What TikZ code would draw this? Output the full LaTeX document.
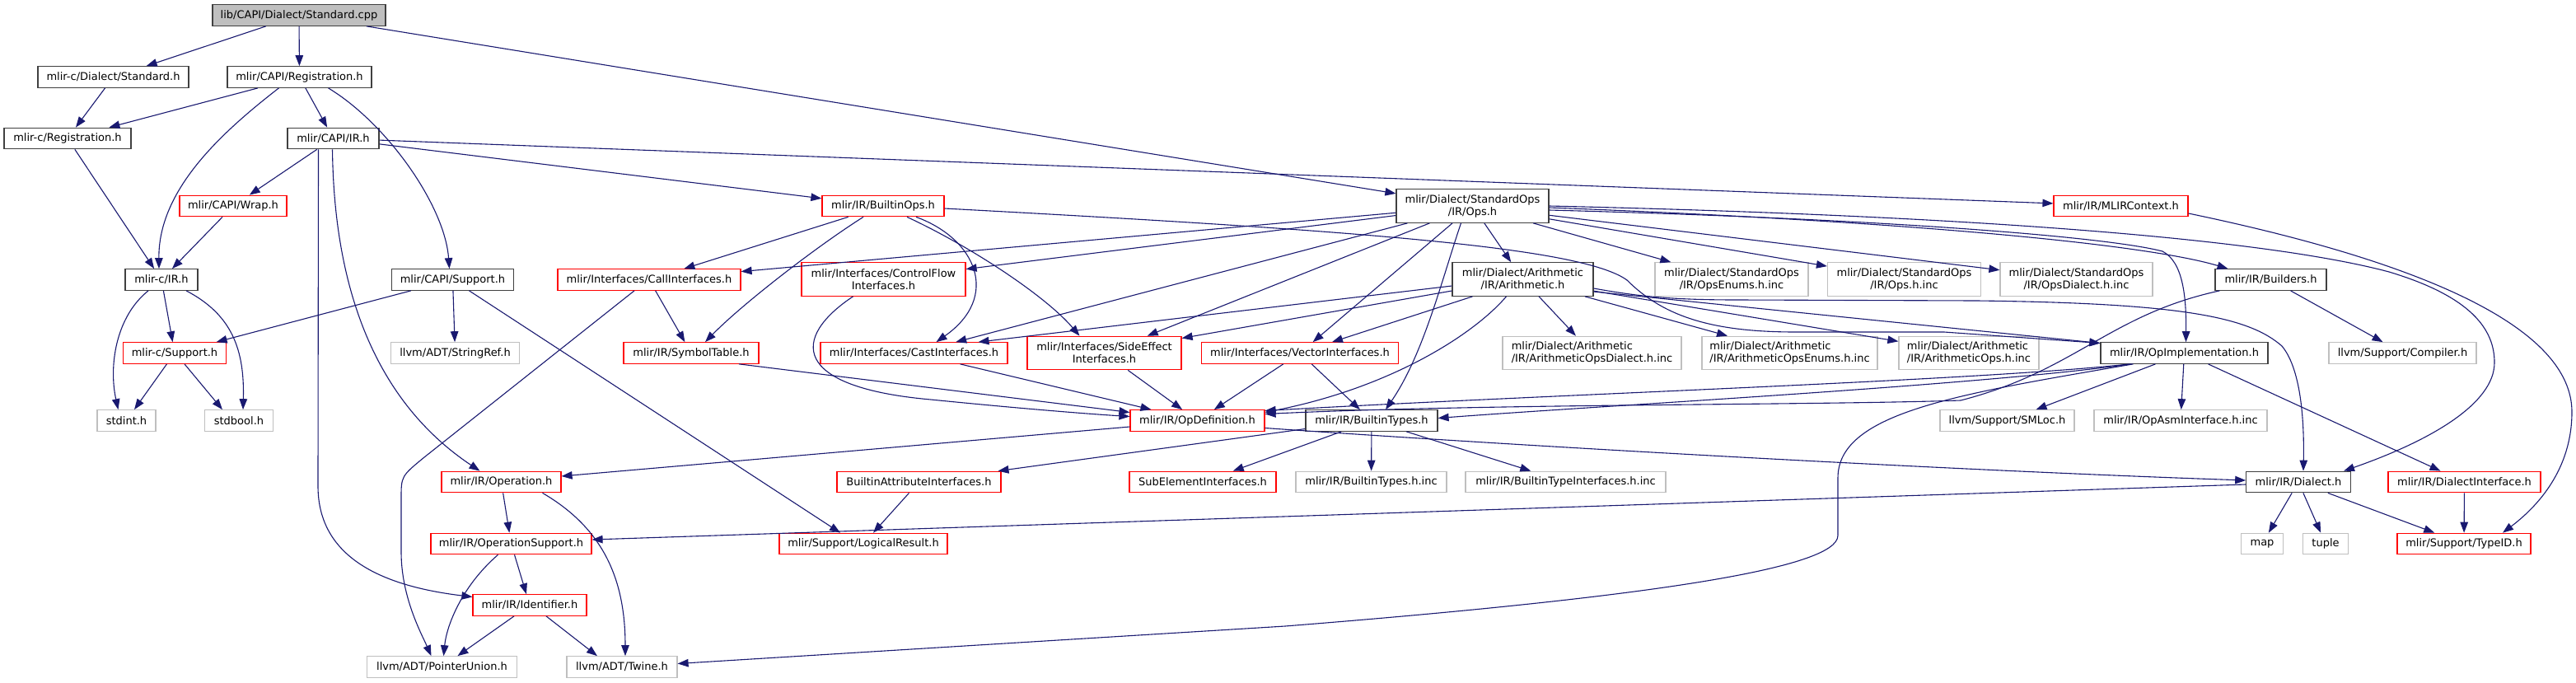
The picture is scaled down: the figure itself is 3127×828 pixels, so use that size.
\documentclass[tikz,border=0pt]{standalone}
\usepackage{fontspec}
\newfontfamily\dfont{DejaVu Sans}
\usetikzlibrary{arrows.meta}
\definecolor{navyc}{HTML}{191970}
\definecolor{grayc}{HTML}{BFBFBF}
\definecolor{rootc}{HTML}{BFBFBF}
\definecolor{blkc}{HTML}{404040}
\definecolor{redc}{HTML}{FF0000}
\tikzset{
 nd/.style={rectangle, inner sep=0pt, minimum height=25.5pt, align=center, font={\dfont\fontsize{13pt}{15pt}\selectfont}, line width=1.2pt, fill=white, text=black},
 blk/.style={nd, draw=blkc},
 rd/.style={nd, draw=redc},
 gr/.style={nd, draw=grayc},
 tw/.style={minimum height=40.5pt},
 edg/.style={draw=navyc, line width=1.1pt, -{Triangle[length=13pt,width=9.5pt]}},
}
\begin{document}
\begin{tikzpicture}[x=1pt,y=-1pt]
\useasboundingbox (0,0) rectangle (3127,828);
% nodes
\node[blk, fill=rootc, minimum width=210pt] (root) at (363,18.5) {lib/CAPI/Dialect/Standard.cpp};
\node[blk, minimum width=183pt] (dstd) at (137.5,93.5) {mlir-c/Dialect/Standard.h};
\node[blk, minimum width=175pt] (capireg) at (363.5,93.5) {mlir/CAPI/Registration.h};
\node[blk, minimum width=154pt] (creg) at (82,168) {mlir-c/Registration.h};
\node[blk, minimum width=111pt] (capiir) at (404.5,168) {mlir/CAPI/IR.h};
\node[rd, minimum width=130pt] (wrap) at (283,250) {mlir/CAPI/Wrap.h};
\node[rd, minimum width=148pt] (builtinops) at (1072,250) {mlir/IR/BuiltinOps.h};
\node[blk, tw, minimum width=185pt] (stdops) at (1787.5,250) {mlir/Dialect/StandardOps\\/IR/Ops.h};
\node[rd, minimum width=163pt] (mlirctx) at (2574.5,250) {mlir/IR/MLIRContext.h};
\node[blk, minimum width=88pt] (cir) at (196,339.5) {mlir-c/IR.h};
\node[blk, minimum width=148pt] (capisup) at (549.5,339.5) {mlir/CAPI/Support.h};
\node[rd, minimum width=222pt] (callif) at (788,339.5) {mlir/Interfaces/CallInterfaces.h};
\node[rd, tw, minimum width=199pt] (ctrlflow) at (1072.5,339) {mlir/Interfaces/ControlFlow\\Interfaces.h};
\node[blk, tw, minimum width=171pt] (arith) at (1848.5,339) {mlir/Dialect/Arithmetic\\/IR/Arithmetic.h};
\node[gr, tw, minimum width=186pt] (opsenums) at (2102,339) {mlir/Dialect/StandardOps\\/IR/OpsEnums.h.inc};
\node[gr, tw, minimum width=186pt] (opsinc) at (2311.5,339) {mlir/Dialect/StandardOps\\/IR/Ops.h.inc};
\node[gr, tw, minimum width=185pt] (opsdialect) at (2520.5,339) {mlir/Dialect/StandardOps\\/IR/OpsDialect.h.inc};
\node[blk, minimum width=135pt] (builders) at (2756.5,339.5) {mlir/IR/Builders.h};
\node[rd, minimum width=125.5pt] (csup) at (212,428.5) {mlir-c/Support.h};
\node[gr, minimum width=156pt] (stringref) at (552.5,428.5) {llvm/ADT/StringRef.h};
\node[rd, minimum width=164pt] (symtab) at (839,428.5) {mlir/IR/SymbolTable.h};
\node[rd, minimum width=227pt] (castif) at (1109.5,428.5) {mlir/Interfaces/CastInterfaces.h};
\node[rd, tw, minimum width=187pt] (sideeff) at (1340.5,428.5) {mlir/Interfaces/SideEffect\\Interfaces.h};
\node[rd, minimum width=239pt] (vecif) at (1578,428.5) {mlir/Interfaces/VectorInterfaces.h};
\node[gr, tw, align=left, minimum width=217pt] (aropsdia) at (1932.5,428.5) {mlir/Dialect/Arithmetic\\/IR/ArithmeticOpsDialect.h.inc};
\node[gr, tw, align=left, minimum width=213pt] (aropsenum) at (2172.5,428.5) {mlir/Dialect/Arithmetic\\/IR/ArithmeticOpsEnums.h.inc};
\node[gr, tw, align=left, minimum width=170pt] (aropsinc) at (2390,428.5) {mlir/Dialect/Arithmetic\\/IR/ArithmeticOps.h.inc};
\node[blk, minimum width=203pt] (opimpl) at (2651.5,428.5) {mlir/IR/OpImplementation.h};
\node[gr, minimum width=179pt] (compiler) at (2916.5,428.5) {llvm/Support/Compiler.h};
\node[gr, minimum width=71pt] (stdint) at (153.5,510.5) {stdint.h};
\node[gr, minimum width=83pt] (stdbool) at (290,510.5) {stdbool.h};
\node[rd, minimum width=163pt] (opdef) at (1453.5,510.5) {mlir/IR/OpDefinition.h};
\node[blk, minimum width=160pt] (btypes) at (1665,510.5) {mlir/IR/BuiltinTypes.h};
\node[gr, minimum width=163pt] (smloc) at (2436.5,510.5) {llvm/Support/SMLoc.h};
\node[gr, minimum width=210pt] (opasm) at (2647,510.5) {mlir/IR/OpAsmInterface.h.inc};
\node[rd, minimum width=145pt] (operation) at (608.5,585) {mlir/IR/Operation.h};
\node[rd, minimum width=199pt] (battrif) at (1115.5,585) {BuiltinAttributeInterfaces.h};
\node[rd, minimum width=178pt] (subelem) at (1460,585) {SubElementInterfaces.h};
\node[gr, minimum width=183pt] (btinc) at (1664.5,585) {mlir/IR/BuiltinTypes.h.inc};
\node[gr, minimum width=243pt] (btiinc) at (1900.5,585) {mlir/IR/BuiltinTypeInterfaces.h.inc};
\node[blk, minimum width=126.5pt] (dialect) at (2790,585) {mlir/IR/Dialect.h};
\node[rd, minimum width=185pt] (dialectif) at (2991.5,585) {mlir/IR/DialectInterface.h};
\node[rd, minimum width=195pt] (opsup) at (620.5,660) {mlir/IR/OperationSupport.h};
\node[rd, minimum width=204pt] (logres) at (1048,660) {mlir/Support/LogicalResult.h};
\node[gr, minimum width=51pt] (map) at (2746,660) {map};
\node[gr, minimum width=55pt] (tuple) at (2823,660) {tuple};
\node[rd, minimum width=162pt] (typeid) at (2991,660) {mlir/Support/TypeID.h};
\node[rd, minimum width=138pt] (ident) at (643,734.5) {mlir/IR/Identifier.h};
\node[gr, minimum width=182pt] (ptrunion) at (536.5,809.5) {llvm/ADT/PointerUnion.h};
\node[gr, minimum width=134pt] (twine) at (755,809.5) {llvm/ADT/Twine.h};
% edges
\draw[edg] (root) -- (dstd);
\draw[edg] (root) -- (capireg);
\draw[edg] (root) -- (stdops);
\draw[edg] (dstd) -- (creg);
\draw[edg] (capireg) -- (creg);
\draw[edg] ([xshift=-25pt]capireg.south) .. controls (270,160) and (192,230) .. ([xshift=-3pt]cir.north);
\draw[edg] (capireg) -- (capiir);
\draw[edg] ([xshift=35pt]capireg.south) .. controls (470,150) and (540,250) .. ([xshift=-4pt]capisup.north);
\draw[edg] (creg) -- (cir);
\draw[edg] (capiir) -- (wrap);
\draw[edg] ([xshift=-18pt]capiir.south) -- (386,590) .. controls (386,680) and (470,712) .. ([yshift=10pt]ident.west);
\draw[edg] ([xshift=-1pt]capiir.south) .. controls (405,300) and (430,470) .. ([xshift=-26pt]operation.north);
\draw[edg] (capiir) -- (mlirctx);
\draw[edg] (capiir) -- (builtinops);
\draw[edg] (wrap) -- (cir);
\draw[edg] ([xshift=-16pt]cir.south) .. controls (140,385) and (132,445) .. ([xshift=-10pt]stdint.north);
\draw[edg] (cir) -- (csup);
\draw[edg] ([xshift=30pt]cir.south) .. controls (282,382) and (297,425) .. ([xshift=5pt]stdbool.north);
\draw[edg] (csup) -- (stdint);
\draw[edg] ([xshift=12pt]csup.south) -- ([xshift=-20pt]stdbool.north);
\draw[edg] (capisup) -- (csup);
\draw[edg] (capisup) -- (stringref);
\draw[edg] ([xshift=20pt]capisup.south) -- ([xshift=-28pt]logres.north);
\draw[edg] (callif) -- (symtab);
\draw[edg] ([xshift=-18pt]callif.south) -- (515,555) .. controls (487,578) .. (487,605) -- (487,670) .. controls (487,725) and (512,770) .. ([xshift=-13pt]ptrunion.north);
\draw[edg] (builtinops) -- (callif);
\draw[edg] ([xshift=-24pt]builtinops.south) .. controls (990,300) and (900,370) .. ([xshift=17pt]symtab.north);
\draw[edg] ([xshift=40pt]builtinops.south) .. controls (1185,290) and (1215,360) .. ([xshift=27pt]castif.north);
\draw[edg] ([xshift=29pt]builtinops.south) .. controls (1180,300) and (1270,360) .. ([xshift=-30pt]sideeff.north);
\draw[edg] ([yshift=-3pt]builtinops.east) .. controls (1650,280) and (1920,300) .. (1975,340) .. controls (2020,385) and (2080,403) .. (2180,403) -- (2360,403) -- ([yshift=12pt]opimpl.west);
\draw[edg] (stdops) -- (callif);
\draw[edg] (stdops) -- (ctrlflow);
\draw[edg] (stdops) -- (castif);
\draw[edg] (stdops) -- (sideeff);
\draw[edg] (stdops) -- (vecif);
\draw[edg] ([xshift=-14pt]stdops.south) .. controls (1750,340) and (1728,430) .. ([xshift=17pt]btypes.north);
\draw[edg] (stdops) -- (arith);
\draw[edg] (stdops) -- (opsenums);
\draw[edg] (stdops) -- (opsinc);
\draw[edg] (stdops) -- (opsdialect);
\draw[edg] ([yshift=-2pt]stdops.east) .. controls (2300,268) and (2600,295) .. ([xshift=-52pt]builders.north);
\draw[edg] ([yshift=-5pt]stdops.east) .. controls (2300,266) and (2560,288) .. (2625,305) .. controls (2650,318) and (2654,360) .. ([xshift=2pt]opimpl.north);
\draw[edg] (stdops.east) .. controls (2400,262) and (2750,290) .. (2900,330) .. controls (3000,360) and (3028,400) .. (3028,440) .. controls (3028,490) and (2950,535) .. ([xshift=55pt]dialect.north);
\draw[edg] ([yshift=-8pt]arith.west) -- ([xshift=78pt]castif.north);
\draw[edg] ([yshift=-14pt]arith.west) -- ([yshift=18pt]sideeff.east);
\draw[edg] ([xshift=-61pt]arith.south) -- ([xshift=39pt]vecif.north);
\draw[edg] ([xshift=-20pt]arith.south) .. controls (1790,405) and (1690,470) .. ([yshift=10pt]opdef.east);
\draw[edg] (arith) -- (aropsdia);
\draw[edg] (arith) -- (aropsenum);
\draw[edg] (arith) -- (aropsinc);
\draw[edg] ([yshift=-15pt]arith.east) -- ([yshift=12pt]opimpl.west);
\draw[edg] ([yshift=-11pt]arith.east) .. controls (1990,360) and (2030,364) .. (2110,364) -- (2400,365) .. controls (2650,368) and (2730,385) .. (2770,420) .. controls (2795,450) and (2797,520) .. ([xshift=6pt]dialect.north);
\draw[edg] (opimpl) -- (smloc);
\draw[edg] (opimpl) -- (opasm);
\draw[edg] (opimpl) -- (dialectif);
\draw[edg] ([xshift=-66pt]opimpl.south) .. controls (2400,462) and (1900,478) .. ([yshift=12pt]opdef.east);
\draw[edg] ([xshift=-64pt]opimpl.south) .. controls (2400,468) and (1950,492) .. ([yshift=3pt]btypes.east);
\draw[edg] ([xshift=-62pt]opimpl.south) .. controls (2380,478) and (2231,500) .. (2231,580) -- (2231,650) .. controls (2231,690) and (2000,725) .. (1560,760) -- ([yshift=4pt]twine.east);
\draw[edg] ([xshift=-62pt]builders.south) .. controls (2560,382) and (2520,450) .. (2380,486) .. controls (2200,492) and (1800,490) .. ([yshift=8pt]opdef.east);
\draw[edg] (builders) -- (compiler);
\draw[edg] ([yshift=-9pt]mlirctx.east) .. controls (2950,320) and (3122,400) .. (3122,500) .. controls (3122,570) and (3080,615) .. ([xshift=47pt]typeid.north);
\draw[edg] (dialect) -- (map);
\draw[edg] (dialect) -- (tuple);
\draw[edg] (dialect) -- (typeid);
\draw[edg] (dialectif) -- (typeid);
\draw[edg] ([yshift=-3pt]dialect.west) -- ([yshift=5pt]opsup.east);
\draw[edg] ([yshift=-9pt]opdef.east) .. controls (1900,545) and (2400,572) .. ([yshift=2pt]dialect.west);
\draw[edg] ([yshift=-7.5pt]opdef.west) -- ([yshift=7pt]operation.east);
\draw[edg] ([xshift=58pt]symtab.south) -- ([yshift=10pt]opdef.west);
\draw[edg] ([xshift=-37pt]ctrlflow.south) .. controls (960,410) and (960,470) .. (1130,485) .. controls (1250,497) and (1330,503) .. ([yshift=5pt]opdef.west);
\draw[edg] (castif) -- (opdef);
\draw[edg] (sideeff) -- (opdef);
\draw[edg] (vecif) -- (opdef);
\draw[edg] (vecif) -- (btypes);
\draw[edg] ([yshift=-10pt]btypes.west) -- ([xshift=96pt]battrif.north);
\draw[edg] (btypes) -- (subelem);
\draw[edg] (btypes) -- (btinc);
\draw[edg] (btypes) -- (btiinc);
\draw[edg] (battrif) -- (logres);
\draw[edg] (operation) -- (opsup);
\draw[edg] ([xshift=50pt]operation.south) .. controls (730,640) and (759,700) .. ([xshift=4pt]twine.north);
\draw[edg] (opsup) -- (ident);
\draw[edg] ([xshift=-16pt]opsup.south) .. controls (560,712) and (542,760) .. ([xshift=2pt]ptrunion.north);
\draw[edg] (ident) -- (ptrunion);
\draw[edg] ([xshift=20pt]ident.south) -- ([xshift=-30pt]twine.north);
\end{tikzpicture}
\end{document}
